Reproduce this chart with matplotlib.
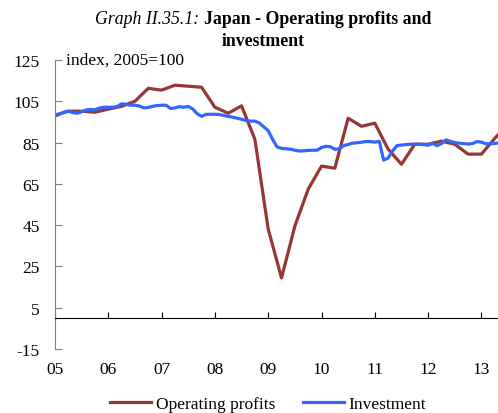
"""Japan - operating profits and investment, index 2005=100"""
import numpy as np
import matplotlib
matplotlib.use("Agg")
from matplotlib import pyplot as plt

plt.rcParams['font.family'] = ['Liberation Serif', 'DejaVu Serif']

# quarterly operating profits, 2005Q1 - 2013Q3
profits = [98.3, 100.2, 100.2, 99.7,
           101.2, 102.6, 105.0, 111.3,
           110.4, 112.8, 112.3, 111.8,
           102.1, 99.2, 102.8, 86.6,
           43.1, 19.4, 44.5, 62.4,
           73.6, 72.6, 96.8, 92.9,
           94.4, 81.8, 74.5, 84.2,
           84.2, 85.7, 84.2, 79.4,
           79.4, 87.0, 94.0]

# monthly investment, 2005M1 - 2013M5
investment = [97.8, 98.7, 99.7, 100.2, 99.5, 99.2, 99.9, 100.8, 101.0, 100.9, 101.7, 102.1,
              102.1, 102.1, 102.5, 103.8, 103.5, 103.1, 103.1, 102.7, 101.8, 102.0, 102.6, 102.9,
              103.1, 103.1, 101.5, 101.8, 102.4, 102.1, 102.5, 101.3, 99.0, 97.7, 98.7, 98.7,
              98.7, 98.6, 98.1, 97.7, 97.3, 96.8, 96.3, 95.7, 95.4, 95.4, 94.5, 92.6,
              90.8, 86.5, 82.9, 82.2, 82.0, 81.8, 81.3, 80.9, 81.0, 81.2, 81.3, 81.3,
              82.6, 83.2, 83.0, 81.7, 82.0, 83.5, 84.1, 84.7, 84.9, 85.2, 85.5, 85.5,
              85.2, 85.6, 76.5, 77.5, 81.0, 83.5, 83.8, 84.0, 84.2, 84.2, 84.2, 84.0,
              83.7, 84.6, 83.5, 84.5, 86.3, 85.6, 85.0, 84.7, 84.5, 84.3, 84.5, 85.5,
              85.2, 84.4, 84.4, 84.6, 84.8]

years = ['05', '06', '07', '08', '09', '10', '11', '12', '13']
yticks = [-15, 5, 25, 45, 65, 85, 105, 125]

red = '#953735'
blue = '#3366ff'
fs = 12.5

t_q = 2005 + np.arange(len(profits)) * 0.25
t_m = 2005 + np.arange(len(investment)) / 12.0

fig = plt.figure(figsize=(4.98, 4.14), dpi=100)
ax = fig.add_axes([55 / 498, 64 / 414, 443 / 498, 289 / 414])

ax.plot(t_q, profits, color=red, lw=2.3, label='Operating profits')
ax.plot(t_m, investment, color=blue, lw=2.3, label='Investment')

ax.set_xlim(2005, 2005 + 443 / 53.3)
ax.set_ylim(-15, 125)

# y axis: grey spine with inward ticks
ax.spines['left'].set_color('#7f7f7f')
ax.spines['right'].set_visible(False)
ax.spines['top'].set_visible(False)
ax.set_yticks(yticks)
ax.set_yticklabels([str(v) for v in yticks])
ax.tick_params(axis='y', direction='in', length=5, color='#7f7f7f', pad=11, labelsize=fs)

# x axis drawn through zero, labels kept at the bottom
ax.spines['bottom'].set_position(('data', 0))
ax.spines['bottom'].set_color('black')
ax.set_xticks(np.arange(2005, 2014))
ax.set_xticklabels(years)
ax.tick_params(axis='x', direction='in', length=4, color='black', pad=31, labelsize=fs)

ax.text(0.025, 1.0, 'index, 2005=100', transform=ax.transAxes, fontsize=fs,
        va='center', ha='left')

# title: italic label then bold heading
fig.canvas.draw()
r = fig.canvas.get_renderer()
tfs = 12.8
t1 = fig.text(0, 1 - 20 / 414, 'Graph II.35.1: ', fontstyle='italic', fontsize=tfs, va='center')
t2 = fig.text(0, 1 - 20 / 414, 'Japan - Operating profits and', fontweight='bold', fontsize=tfs,
              va='center')
w1 = t1.get_window_extent(r).width
w2 = t2.get_window_extent(r).width
cx = 263
x0 = cx - (w1 + w2) / 2
t1.set_x(x0 / 498)
t2.set_x((x0 + w1) / 498)
fig.text(cx / 498, 1 - 42 / 414, 'investment', fontweight='bold', fontsize=tfs,
         va='center', ha='center')

fig.legend(loc='lower center', bbox_to_anchor=(0.539, -0.035), ncol=2, frameon=False,
           fontsize=fs, handlelength=2.35, columnspacing=1.55, handletextpad=0.3)

fig.savefig('out.png', dpi=100)
